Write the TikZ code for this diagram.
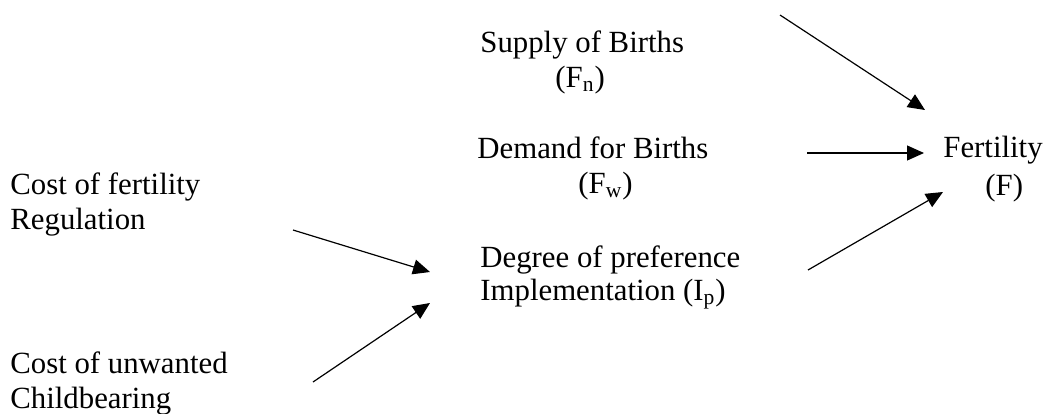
\documentclass[tikz,border=0pt]{standalone}
\usepackage{fontspec}
\setmainfont{Liberation Serif}
\usetikzlibrary{arrows.meta,positioning}

\begin{document}
\begin{tikzpicture}[x=0.5pt,y=-0.5pt,font=\fontsize{15.4}{17.5}\selectfont,
  t/.style={anchor=base west,inner sep=0pt,align=left},
  ls/.style={font=\fontsize{15.4}{#1}\selectfont},
  a/.style={-{Triangle[length=8.5pt,width=7.5pt]},line width=0.6pt}]
  \useasboundingbox (0,0) rectangle (1045,413);
  \node[t] (supply) at (480,87) {Supply of Births\\\hspace*{37.5pt}(F\textsubscript{n})};
  \node[t] (demand) at (477,193) {Demand for Births\\\hspace*{50.5pt}(F\textsubscript{w})};
  \node[t,ls=16.5pt] (degree) at (480,300) {Degree of preference\\Implementation (I\textsubscript{p})};
  \node[t,ls=19pt] (fert) at (943,195) {Fertility\\\hspace*{21pt}(F)};
  \node[t] (costreg) at (10,229) {Cost of fertility\\Regulation};
  \node[t] (costchild) at (10,408) {Cost of unwanted\\Childbearing};
  % arrow ends
  \coordinate (s0) at (780,15);  \coordinate (s1) at (925,110);
  \coordinate (d0) at (807,153); \coordinate (d1) at (924,153);
  \coordinate (p0) at (808,270); \coordinate (p1) at (943,192);
  \coordinate (r0) at (293,230); \coordinate (r1) at (430,272);
  \coordinate (c0) at (313,382); \coordinate (c1) at (430,303);
  \foreach \i/\j in {s0/s1,d0/d1,p0/p1,r0/r1,c0/c1} \draw[a] (\i)--(\j);
\end{tikzpicture}
\end{document}
